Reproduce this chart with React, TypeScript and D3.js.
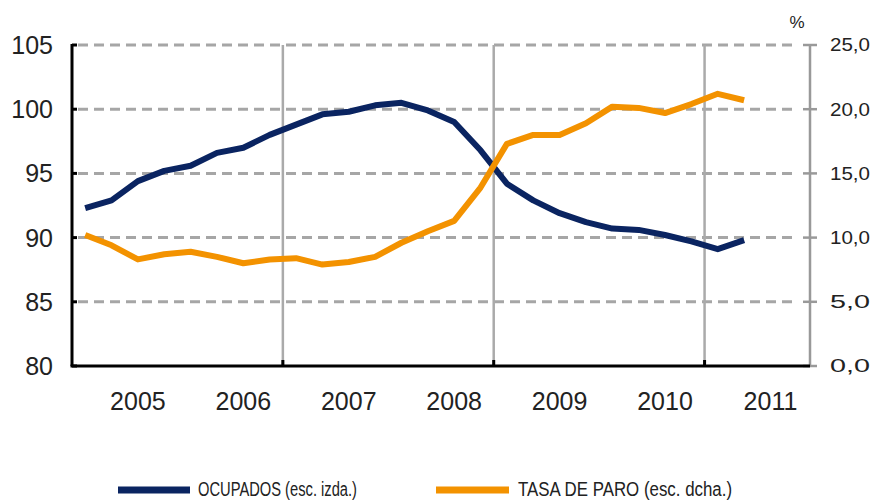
import React from "react";
import * as d3 from "d3";

const categories: string[] = [];
const years = [2005, 2006, 2007, 2008, 2009, 2010, 2011];
years.forEach((y) => [1, 2, 3, 4].forEach((q) => categories.push(`${y}T${q}`)));

const ocupados = [92.3, 92.9, 94.4, 95.2, 95.6, 96.6, 97.0, 98.0, 98.8, 99.6, 99.8, 100.3, 100.5, 99.9, 99.0, 96.8, 94.2, 92.9, 91.9, 91.2, 90.7, 90.6, 90.2, 89.7, 89.1, 89.8];
const tasaParo = [10.2, 9.4, 8.3, 8.7, 8.9, 8.5, 8.0, 8.3, 8.4, 7.9, 8.1, 8.5, 9.6, 10.5, 11.3, 13.9, 17.3, 18.0, 18.0, 18.9, 20.2, 20.1, 19.7, 20.4, 21.2, 20.7];

const leftTicks = [80, 85, 90, 95, 100, 105];
const rightTicks = [0, 5, 10, 15, 20, 25];
const yearLabels = ["2005", "2006", "2007", "2008", "2009", "2010", "2011"];
const seriesNames = ["OCUPADOS (esc. izda.)", "TASA DE PARO (esc. dcha.)"];

const BLUE = "#0a2461";
const ORANGE = "#f39200";
const FONT = "'Liberation Sans', Arial, sans-serif";

export default function App() {
  const x0 = 72, x1 = 810, yTop = 45, yBot = 366;
  const x = d3.scaleBand<string>().domain(categories).range([x0, x1]).padding(0);
  const yL = d3.scaleLinear().domain([80, 105]).range([yBot, yTop]);
  const yR = d3.scaleLinear().domain([0, 25]).range([yBot, yTop]);
  const cx = (i: number) => (x(categories[i]) as number) + x.bandwidth() / 2;

  const lineL = d3.line<number>().x((_, i) => cx(i)).y((d) => yL(d));
  const lineR = d3.line<number>().x((_, i) => cx(i)).y((d) => yR(d));

  const boundaries = [8, 16, 24].map((i) => x(categories[i]) as number);

  return (
    <svg width={874} height={501} style={{ position: "absolute", left: 0, top: 0, background: "#fff" }} fontFamily={FONT}>
      {/* horizontal dashed grid */}
      {leftTicks.filter((t) => t !== 80).map((t) => (
        <line key={t} x1={x0 + 6} x2={x1 - 12} y1={yL(t)} y2={yL(t)} stroke="#a6a6a6" strokeWidth={3} strokeDasharray="10,6" />
      ))}
      {/* vertical gray lines */}
      {boundaries.map((bx, i) => (
        <line key={i} x1={bx} x2={bx} y1={yTop} y2={yBot} stroke="#aaaaaa" strokeWidth={2.5} />
      ))}
      {/* right axis */}
      <line x1={x1} x2={x1} y1={yTop} y2={yBot} stroke="#999" strokeWidth={2.5} />
      {rightTicks.map((t) => (
        <g key={t}>
          <line x1={x1 - 7} x2={x1 + 7} y1={yR(t)} y2={yR(t)} stroke="#999" strokeWidth={2.5} />
          <text x={830} y={yR(t)} dy="0.36em" fontSize={18} fill="#222" textLength={40} lengthAdjust="spacingAndGlyphs">{d3.format(".1f")(t).replace(".", ",")}</text>
        </g>
      ))}
      <text x={797} y={28} textAnchor="middle" fontSize={17} fill="#222">%</text>
      {/* left axis */}
      <line x1={x0} x2={x0} y1={yTop - 1} y2={yBot} stroke="#000" strokeWidth={3} />
      {leftTicks.map((t) => (
        <g key={t}>
          <line x1={x0} x2={x0 + 5} y1={yL(t)} y2={yL(t)} stroke="#000" strokeWidth={3} />
          <text x={53} y={yL(t)} dy="0.36em" textAnchor="end" fontSize={25} fill="#222">{t}</text>
        </g>
      ))}
      {/* bottom axis */}
      <line x1={x0 - 1.5} x2={x1} y1={yBot} y2={yBot} stroke="#000" strokeWidth={3} />
      {boundaries.map((bx, i) => (
        <line key={i} x1={bx} x2={bx} y1={yBot} y2={yBot - 6} stroke="#000" strokeWidth={3} />
      ))}
      {yearLabels.map((yl, i) => (
        <text key={yl} x={cx(i * 4 + 2)} y={410} textAnchor="middle" fontSize={25} fill="#222">{yl}</text>
      ))}
      {/* series */}
      <path d={lineL(ocupados) as string} fill="none" stroke={BLUE} strokeWidth={6} strokeLinejoin="round" />
      <path d={lineR(tasaParo) as string} fill="none" stroke={ORANGE} strokeWidth={6} strokeLinejoin="round" />
      {/* legend */}
      <line x1={118} x2={190} y1={490} y2={490} stroke={BLUE} strokeWidth={7} />
      <text x={198} y={496} fontSize={20} fill="#222" textLength={159} lengthAdjust="spacingAndGlyphs">{seriesNames[0]}</text>
      <line x1={436} x2={509} y1={490} y2={490} stroke={ORANGE} strokeWidth={7} />
      <text x={518} y={496} fontSize={20} fill="#222" textLength={214} lengthAdjust="spacingAndGlyphs">{seriesNames[1]}</text>
    </svg>
  );
}
